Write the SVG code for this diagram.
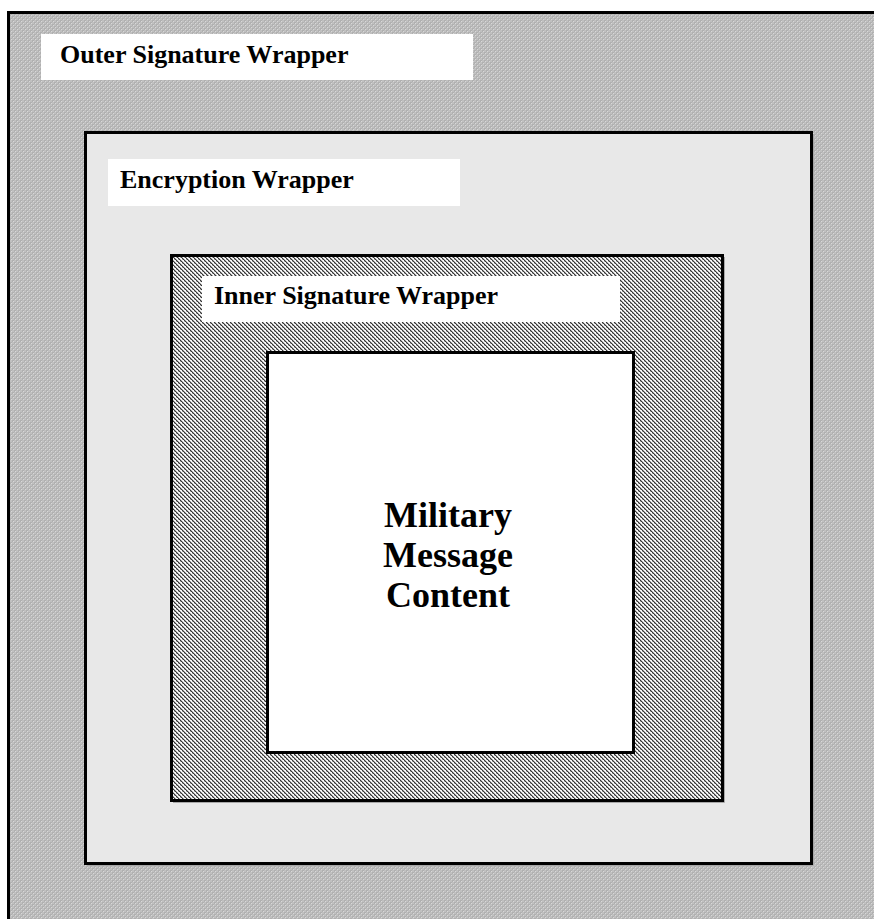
<svg xmlns="http://www.w3.org/2000/svg" width="874" height="919" viewBox="0 0 874 919">
  <defs>
    <pattern id="lightDots" width="4" height="4" patternUnits="userSpaceOnUse">
      <rect width="4" height="4" fill="#c0c0c0"/>
      <rect x="0" y="0" width="2" height="2" fill="#b0b0b0"/>
      <rect x="2" y="2" width="2" height="2" fill="#b0b0b0"/>
      <rect x="1" y="1" width="1" height="1" fill="#d8d8d8"/>
      <rect x="3" y="3" width="1" height="1" fill="#d8d8d8"/>
    </pattern>
    <pattern id="darkWeave" width="4" height="4" patternUnits="userSpaceOnUse">
      <rect width="4" height="4" fill="#a8a8a8"/>
      <rect x="0" y="0" width="1" height="1" fill="#333"/>
      <rect x="1" y="1" width="1" height="1" fill="#333"/>
      <rect x="2" y="2" width="1" height="1" fill="#333"/>
      <rect x="3" y="3" width="1" height="1" fill="#333"/>
      <rect x="2" y="0" width="1" height="1" fill="#fff"/>
      <rect x="3" y="1" width="1" height="1" fill="#fff"/>
      <rect x="0" y="2" width="1" height="1" fill="#fff"/>
      <rect x="1" y="3" width="1" height="1" fill="#fff"/>
      <rect x="3" y="0" width="1" height="1" fill="#eee"/>
      <rect x="1" y="2" width="1" height="1" fill="#eee"/>
    </pattern>
  </defs>
  <style>
    .box { stroke: #000; stroke-width: 3; }
    .shadow { fill: none; stroke: #a8a8a8; stroke-width: 1; }
    .labelbg { fill: #fff; }
    .label { font-family: "Liberation Serif", "Times New Roman", serif; font-weight: bold; font-size: 26px; fill: #000; }
    .content { font-family: "Liberation Serif", "Times New Roman", serif; font-weight: bold; font-size: 36px; fill: #000; text-anchor: middle; }
  </style>
  <rect width="874" height="919" fill="#fff"/>
  <g id="outer-signature-wrapper">
    <rect class="box" x="8.5" y="12.5" width="880" height="920" fill="url(#lightDots)"/>
    <rect class="labelbg" x="41" y="34" width="432" height="46"/>
    <text class="label" x="60" y="63">Outer Signature Wrapper</text>
  </g>
  <g id="encryption-wrapper">
    <rect class="box" x="85.5" y="132.5" width="726" height="731" fill="#e8e8e8"/>
    <path class="shadow" d="M813.5 134 V865.5 H87"/>
    <rect class="labelbg" x="108" y="159" width="352" height="47"/>
    <text class="label" x="120" y="188">Encryption Wrapper</text>
  </g>
  <g id="inner-signature-wrapper">
    <rect class="box" x="171.5" y="255.5" width="551" height="545" fill="url(#darkWeave)"/>
    <path class="shadow" d="M724.5 257 V802.5 H173"/>
    <rect class="labelbg" x="202" y="276" width="418" height="46"/>
    <text class="label" x="214" y="304">Inner Signature Wrapper</text>
  </g>
  <g id="military-message-content">
    <rect class="box" x="267.5" y="352.5" width="366" height="400" fill="#fff"/>
    <text class="content" x="448" y="527">Military</text>
    <text class="content" x="448" y="567">Message</text>
    <text class="content" x="448" y="607">Content</text>
  </g>
  <g id="connectors"/>
</svg>
